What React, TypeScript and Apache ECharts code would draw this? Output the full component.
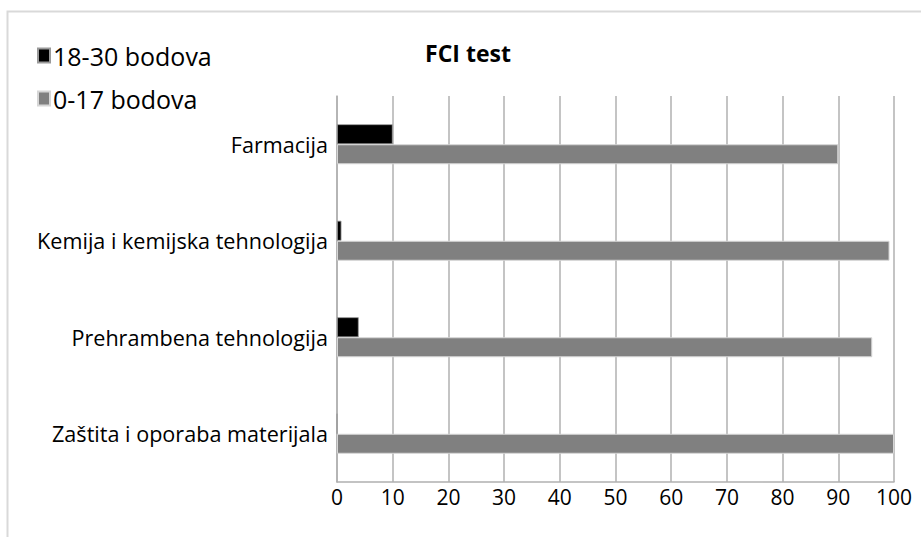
import React, { useEffect, useRef } from "react";
import * as echarts from "echarts";

const categories = [
  "Farmacija",
  "Kemija i kemijska tehnologija",
  "Prehrambena tehnologija",
  "Zaštita i oporaba materijala",
];
const highScores = [10, 0.8, 3.9, 0];
const lowScores = [90, 99.2, 96.1, 100];
const seriesNames = ["18-30 bodova", "0-17 bodova"];
const chartTitle = "FCI test";

export default function App() {
  const ref = useRef<HTMLDivElement>(null);
  useEffect(() => {
    if (!ref.current) return;
    const chart = echarts.init(ref.current, undefined, { renderer: "svg" });
    const font = "'Open Sans', 'Noto Sans', sans-serif";
    chart.setOption({
      animation: false,
      backgroundColor: "#ffffff",
      title: {
        text: chartTitle,
        left: 463,
        top: 36,
        textAlign: "center",
        textStyle: { fontFamily: font, fontSize: 23, fontWeight: "bold", color: "#000" },
      },
      legend: {
        data: seriesNames,
        orient: "vertical",
        left: 32,
        top: 38,
        itemWidth: 12,
        itemHeight: 14,
        itemGap: 18,
        icon: "rect",
        textStyle: { fontFamily: font, fontSize: 25, color: "#000", padding: [0, 0, 0, -2] },
      },
      graphic: [
        {
          type: "rect",
          shape: { x: 7.5, y: 11.5, width: 1000, height: 1000 },
          style: { fill: "none", stroke: "#d9d9d9", lineWidth: 2 },
          silent: true,
          z: -1,
        },
      ],
      grid: { left: 337, right: 27, top: 96, bottom: 55, containLabel: false },
      xAxis: {
        type: "value",
        min: 0,
        max: 100,
        interval: 10,
        axisLine: { show: true, lineStyle: { color: "#b0b0b0", width: 1.5 } },
        axisTick: { show: false },
        splitLine: { show: true, lineStyle: { color: "#b0b0b0", width: 1.5 } },
        axisLabel: { fontFamily: font, fontSize: 21, color: "#000", margin: 4 },
      },
      yAxis: {
        type: "category",
        data: categories,
        inverse: true,
        axisLine: { show: true, lineStyle: { color: "#b0b0b0", width: 1.5 } },
        axisTick: { show: false },
        axisLabel: { fontFamily: font, fontSize: 21.6, color: "#000", margin: 9 },
      },
      series: [
        {
          name: seriesNames[0],
          type: "bar",
          data: highScores,
          barWidth: 20,
          barGap: "0%",
          itemStyle: { color: "#000000", borderColor: "#9a9a9a", borderWidth: 0.8 },
        },
        {
          name: seriesNames[1],
          type: "bar",
          data: lowScores,
          barWidth: 20,
          barGap: "0%",
          itemStyle: { color: "#808080", borderColor: "#d6d6d6", borderWidth: 1 },
        },
      ],
    });
    return () => chart.dispose();
  }, []);
  return (
    <div
      ref={ref}
      style={{ position: "fixed", left: 0, top: 0, width: 921, height: 537 }}
    />
  );
}
